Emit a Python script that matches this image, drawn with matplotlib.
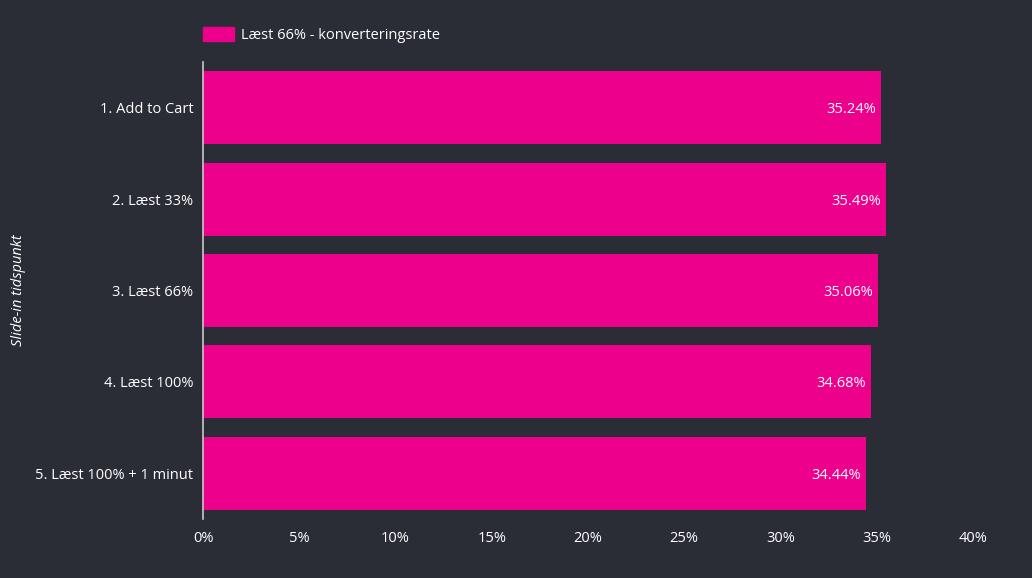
import matplotlib
matplotlib.use("Agg")
import matplotlib.pyplot as plt
from matplotlib.ticker import FuncFormatter
from matplotlib.patches import Patch

categories = ["1. Add to Cart", "2. Læst 33%", "3. Læst 66%", "4. Læst 100%", "5. Læst 100% + 1 minut"]
values = [35.24, 35.49, 35.06, 34.68, 34.44]
series_name = "Læst 66% - konverteringsrate"
xticks = [0, 5, 10, 15, 20, 25, 30, 35, 40]

bg = "#2b2d36"
bar_color = "#ec008c"
txt = "#ffffff"

plt.rcParams['font.family'] = ['Open Sans', 'DejaVu Sans']

fig = plt.figure(figsize=(10.32, 5.78), dpi=100, facecolor=bg)
ax = fig.add_axes([203/1032, 1-519/578, 770/1032, 457/578])
ax.set_facecolor(bg)

y = list(range(len(categories)))
ax.barh(y, values, height=0.8, color=bar_color, zorder=2)
ax.set_ylim(len(categories)-0.5, -0.5)
ax.set_xlim(0, 40)
ax.set_yticks(y)
ax.set_yticklabels(categories, fontsize=10.5, color=txt)
ax.set_xticks(xticks)
ax.xaxis.set_major_formatter(FuncFormatter(lambda v, p: f"{v:.0f}%"))
ax.tick_params(axis='x', colors=txt, labelsize=10.5, length=0, pad=9)
ax.tick_params(axis='y', colors=txt, length=0, pad=7)
for s in ['top', 'right', 'bottom']:
    ax.spines[s].set_visible(False)
ax.spines['left'].set_color('#c8c8c8')
ax.spines['left'].set_linewidth(1.2)

for yi, v in zip(y, values):
    ax.text(v - 0.25, yi, f"{v:.2f}%", ha='right', va='center_baseline', color=txt, fontsize=10.5, zorder=3)

ax.set_ylabel("Slide-in tidspunkt", color=txt, fontsize=10.5, style='italic')
ax.yaxis.set_label_coords(-0.23, 0.5)

leg = fig.legend(handles=[Patch(facecolor=bar_color, edgecolor=bar_color)], labels=[series_name],
                 loc='center left', bbox_to_anchor=(190/1032, 1-35/578), frameon=False,
                 fontsize=10.5, labelcolor=txt, handlelength=2.1, handleheight=1.1, handletextpad=0.5)

fig.savefig("out.png", dpi=100, facecolor=bg)
